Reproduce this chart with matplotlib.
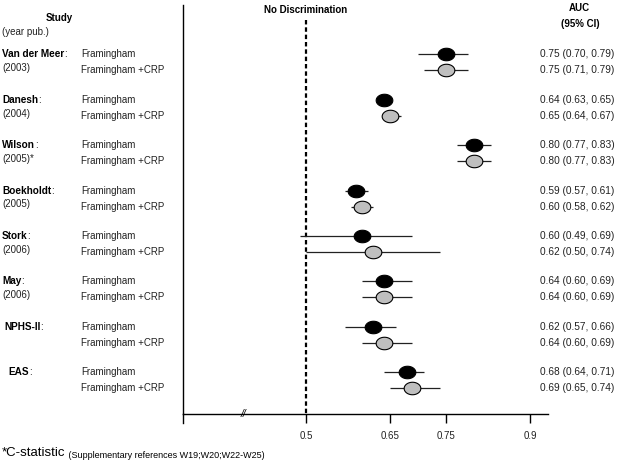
import matplotlib
matplotlib.use("Agg")
import matplotlib.pyplot as plt
from matplotlib.path import Path
from matplotlib.markers import MarkerStyle
from matplotlib.transforms import blended_transform_factory
import numpy as np

plt.rcParams['font.family'] = ['Liberation Sans', 'DejaVu Sans']

studies = ["Van der Meer", "Danesh", "Wilson", "Boekholdt", "Stork", "May", "NPHS-II", "EAS"]
years = ["(2003)", "(2004)", "(2005)*", "(2005)", "(2006)", "(2006)", "", ""]
model_labels = ["Framingham", "Framingham +CRP"]
fr_auc = [0.75, 0.64, 0.80, 0.59, 0.60, 0.64, 0.62, 0.68]
fr_lo = [0.70, 0.63, 0.77, 0.57, 0.49, 0.60, 0.57, 0.64]
fr_hi = [0.79, 0.65, 0.83, 0.61, 0.69, 0.69, 0.66, 0.71]
crp_auc = [0.75, 0.65, 0.80, 0.60, 0.62, 0.64, 0.64, 0.69]
crp_lo = [0.71, 0.64, 0.77, 0.58, 0.50, 0.60, 0.60, 0.65]
crp_hi = [0.79, 0.67, 0.83, 0.62, 0.74, 0.69, 0.69, 0.74]
xticks = [0.5, 0.65, 0.75, 0.9]
xtick_labels = ["0.5", "0.65", "0.75", "0.9"]

W, H = 626, 465
fig = plt.figure(figsize=(W / 100, H / 100), dpi=100)
ax = fig.add_axes([183 / W, (H - 414) / H, 365 / W, 409 / H])
ax.set_xlim(0.2804, 0.932)
ax.set_ylim(7.92, -1.09)

n = len(studies)
y_fr = np.arange(n, dtype=float)
y_crp = y_fr + 0.352

# ellipse marker
t = np.linspace(0, 2 * np.pi, 60)
verts = np.column_stack([np.cos(t), 0.75 * np.sin(t)])
ell = MarkerStyle(Path(verts, closed=True))

lc = '#222222'
ax.hlines(y_fr, fr_lo, fr_hi, color=lc, lw=0.9, zorder=2)
ax.hlines(y_crp, crp_lo, crp_hi, color=lc, lw=0.9, zorder=2)
ax.plot(fr_auc, y_fr, ls='none', marker=ell, ms=12, mfc='black', mec='black', mew=0.8, zorder=3)
ax.plot(crp_auc, y_crp, ls='none', marker=ell, ms=12, mfc='#bfbfbf', mec='black', mew=0.8, zorder=3)

# no discrimination line
ax.plot([0.5, 0.5], [-0.76, 7.92], color='black', lw=1.6, ls=(0, (2, 1.3)), zorder=1)
ax.text(0.5, -0.98, "No Discrimination", ha='center', va='center', fontsize=7, fontweight='bold')

# spines / axis
for s in ['top', 'right']:
    ax.spines[s].set_visible(False)
ax.spines['left'].set_linewidth(1.0)
ax.spines['bottom'].set_linewidth(1.0)
ax.plot([0, 0], [-0.022, 0], transform=ax.transAxes, color='black', lw=1.0, clip_on=False)
ax.set_yticks([])
ax.set_xticks(xticks)
ax.set_xticklabels(xtick_labels, fontsize=7, color='#222222')
ax.tick_params(axis='x', direction='out', length=6.5, width=1.0, pad=6)
ax.text(0.3875, 0, "//", transform=blended_transform_factory(ax.transData, ax.transAxes),
        ha='center', va='center', fontsize=7.5, style='italic')

# left labels
tr = blended_transform_factory(fig.transFigure, ax.transData)
fig.text(59 / W, -0.806, "Study", transform=tr, ha='center', va='center', fontsize=7, fontweight='bold')
fig.text(2 / W, -0.498, "(year pub.)", transform=tr, ha='left', va='center', fontsize=7, color='#222222')
indent = {"NPHS-II": 2, "EAS": 6}
for i, name in enumerate(studies):
    tn = fig.text((2 + indent.get(name, 0)) / W, y_fr[i], name, transform=tr, ha='left', va='center',
                  fontsize=7.2, fontweight='bold')
    ax.annotate(":", xy=(1, 0.5), xycoords=tn, ha='left', va='center', fontsize=7)
    if years[i]:
        fig.text(2 / W, y_crp[i] - 0.05, years[i], transform=tr, ha='left', va='center', fontsize=7,
                 color='#222222')
    fig.text(81 / W, y_fr[i], model_labels[0], transform=tr, ha='left', va='center', fontsize=7,
             color='#222222')
    fig.text(81 / W, y_crp[i], model_labels[1], transform=tr, ha='left', va='center', fontsize=7,
             color='#222222')
    fig.text(540 / W, y_fr[i], f"{fr_auc[i]:.2f} ({fr_lo[i]:.2f}, {fr_hi[i]:.2f})", transform=tr,
             ha='left', va='center', fontsize=7.3, color='#222222')
    fig.text(540 / W, y_crp[i], f"{crp_auc[i]:.2f} ({crp_lo[i]:.2f}, {crp_hi[i]:.2f})", transform=tr,
             ha='left', va='center', fontsize=7.3, color='#222222')

fig.text(579 / W, -1.026, "AUC", transform=tr, ha='center', va='center', fontsize=7, fontweight='bold')
fig.text(580 / W, -0.674, "(95% CI)", transform=tr, ha='center', va='center', fontsize=7, fontweight='bold')

# footnote
fn = fig.text(2 / W, 1 - 453 / H, "*C-statistic", ha='left', va='center', fontsize=9.5)
ax.annotate(" (Supplementary references W19;W20;W22-W25)", xy=(1, 0.3), xycoords=fn,
            ha='left', va='center', fontsize=6.5)

fig.savefig("out.png", dpi=100)
